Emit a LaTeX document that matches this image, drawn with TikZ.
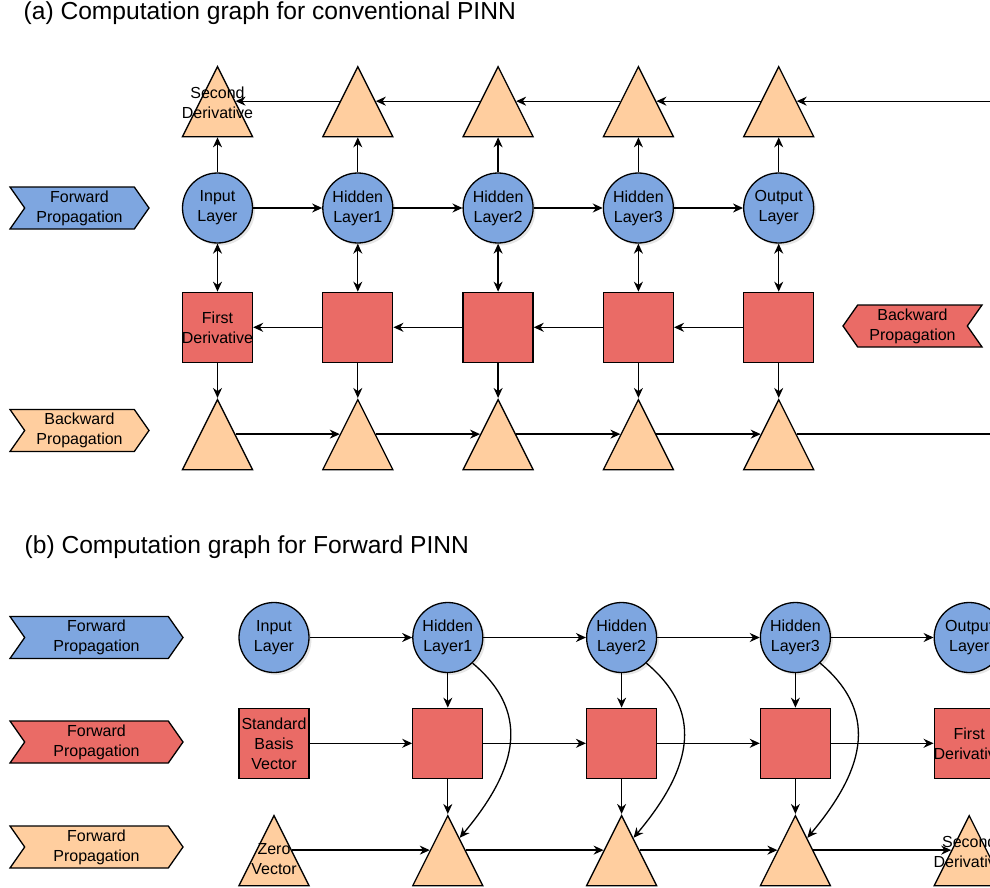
\documentclass[tikz,border=0pt]{standalone}
\usepackage{fontspec}
\setmainfont{Liberation Sans}
\usepackage{xcolor}
\usepackage{tikz}
\usetikzlibrary{positioning, arrows.meta, calc, shapes.geometric, shapes.symbols, shadows}

\definecolor{layerblue}{HTML}{7EA6E0}
\definecolor{derivred}{HTML}{EA6B66}
\definecolor{tanorange}{HTML}{FFCE9F}
\newcommand{\boxfont}{\fontsize{8}{10}\selectfont}

\begin{document}
\begin{tikzpicture}[
    line width=0.65pt,
    layer/.style={circle, draw, fill=layerblue, minimum size=35pt, inner sep=0pt,
                  align=center, font=\boxfont,
                  drop shadow={opacity=0.2, shadow xshift=1.2pt, shadow yshift=-1.2pt}},
    deriv/.style={rectangle, draw, fill=derivred, minimum size=35pt, inner sep=0pt,
                  align=center, font=\boxfont},
    tri/.style={isosceles triangle, isosceles triangle stretches, shape border rotate=90,
                draw, fill=tanorange, minimum width=35pt, minimum height=35pt, inner sep=0pt},
    tag/.style={signal, signal from=west, signal to=east, signal pointer angle=110,
                draw, minimum height=21pt, inner sep=0pt, align=center, font=\boxfont},
    title/.style={anchor=base west, inner sep=0pt, font=\fontsize{12.3}{14}\selectfont},
    every label/.style={align=center, inner sep=0pt, font=\boxfont},
    arr/.style={-{Stealth[length=5pt, width=4.5pt]}},
    bi/.style={{Stealth[length=5pt, width=4.5pt]}-{Stealth[length=5pt, width=4.5pt]}}
  ]
  \path[use as bounding box, clip] (0,0) rectangle (495pt,-444pt);

  % (a) conventional PINN
  \node[title] (tia) at (11.5pt,-10pt) {(a) Computation graph for conventional PINN};

  \node[tag, fill=layerblue, minimum width=69.5pt] (fpa) at (39.75pt,-104pt) {Forward\\Propagation};
  \node[tag, fill=tanorange, minimum width=69.5pt] (bpa) at (39.75pt,-215.25pt) {Backward\\Propagation};
  \node[tag, signal from=east, signal to=west, fill=derivred, minimum width=69.5pt]
       (bpr) at (456.25pt,-163pt) {Backward\\Propagation};

  \node[layer] (ia) at (108.75pt,-104pt) {Input\\Layer};
  \node[layer, right=34.5pt of ia]  (ha1) {Hidden\\Layer1};
  \node[layer, right=34.5pt of ha1] (ha2) {Hidden\\Layer2};
  \node[layer, right=34.5pt of ha2] (ha3) {Hidden\\Layer3};
  \node[layer, right=34.5pt of ha3] (oa)  {Output\\Layer};

  \node[tri, above=17.5pt of ia, label={[yshift=6pt]center:Second\\Derivative}] (ta0) {};
  \node[tri, above=17.5pt of ha1] (ta1) {};
  \node[tri, above=17.5pt of ha2] (ta2) {};
  \node[tri, above=17.5pt of ha3] (ta3) {};
  \node[tri, above=17.5pt of oa]  (ta4) {};

  \node[deriv, below=24pt of ia, label={center:First\\Derivative}] (sa0) {};
  \node[deriv, below=24pt of ha1] (sa1) {};
  \node[deriv, below=24pt of ha2] (sa2) {};
  \node[deriv, below=24pt of ha3] (sa3) {};
  \node[deriv, below=24pt of oa]  (sa4) {};

  \node[tri, below=17.5pt of sa0] (ba0) {};
  \node[tri, below=17.5pt of sa1] (ba1) {};
  \node[tri, below=17.5pt of sa2] (ba2) {};
  \node[tri, below=17.5pt of sa3] (ba3) {};
  \node[tri, below=17.5pt of sa4] (ba4) {};

  \coordinate (rim) at (500pt,0);
  \coordinate (topfeed) at (ta4.right side -| rim);
  \coordinate (botout)  at (ba4.right side -| rim);

  \draw[arr] (ia)  -- (ha1);
  \draw[arr] (ha1) -- (ha2);
  \draw[arr] (ha2) -- (ha3);
  \draw[arr] (ha3) -- (oa);

  \draw[arr] (ia)  -- (ta0);
  \draw[arr] (ha1) -- (ta1);
  \draw[arr] (ha2) -- (ta2);
  \draw[arr] (ha3) -- (ta3);
  \draw[arr] (oa)  -- (ta4);

  \draw[bi] (ia)  -- (sa0);
  \draw[bi] (ha1) -- (sa1);
  \draw[bi] (ha2) -- (sa2);
  \draw[bi] (ha3) -- (sa3);
  \draw[bi] (oa)  -- (sa4);

  \draw[arr] (sa0) -- (ba0);
  \draw[arr] (sa1) -- (ba1);
  \draw[arr] (sa2) -- (ba2);
  \draw[arr] (sa3) -- (ba3);
  \draw[arr] (sa4) -- (ba4);

  \draw[arr] (topfeed) -- (ta4.right side);
  \draw[arr] (ta4.left side) -- (ta3.right side);
  \draw[arr] (ta3.left side) -- (ta2.right side);
  \draw[arr] (ta2.left side) -- (ta1.right side);
  \draw[arr] (ta1.left side) -- (ta0.right side);

  \draw[arr] (sa4) -- (sa3);
  \draw[arr] (sa3) -- (sa2);
  \draw[arr] (sa2) -- (sa1);
  \draw[arr] (sa1) -- (sa0);

  \draw[arr] (ba0.right side) -- (ba1.left side);
  \draw[arr] (ba1.right side) -- (ba2.left side);
  \draw[arr] (ba2.right side) -- (ba3.left side);
  \draw[arr] (ba3.right side) -- (ba4.left side);
  \draw (ba4.right side) -- (botout);

  % (b) forward PINN
  \node[title] (tib) at (12pt,-276.5pt) {(b) Computation graph for Forward PINN};

  \node[tag, fill=layerblue, minimum width=86.5pt] (fpb1) at (48.25pt,-318.75pt) {Forward\\Propagation};
  \node[tag, fill=derivred,  minimum width=86.5pt] (fpb2) at (48.25pt,-371pt) {Forward\\Propagation};
  \node[tag, fill=tanorange, minimum width=86.5pt] (fpb3) at (48.25pt,-423.5pt) {Forward\\Propagation};

  \node[layer] (ib) at (137pt,-318.75pt) {Input\\Layer};
  \node[layer, right=51.25pt of ib]  (hb1) {Hidden\\Layer1};
  \node[layer, right=51.25pt of hb1] (hb2) {Hidden\\Layer2};
  \node[layer, right=51.25pt of hb2] (hb3) {Hidden\\Layer3};
  \node[layer, right=51.25pt of hb3] (ob)  {Output\\Layer};

  \node[deriv, below=17.25pt of ib]  (sv)  {Standard\\Basis\\Vector};
  \node[deriv, below=17.25pt of hb1] (sb1) {};
  \node[deriv, below=17.25pt of hb2] (sb2) {};
  \node[deriv, below=17.25pt of hb3] (sb3) {};
  \node[deriv, below=17.25pt of ob, label={center:First\\Derivative}] (fd) {};

  \node[tri, below=17.5pt of sv, label={[yshift=2.5pt]center:Zero\\Vector}] (zv) {};
  \node[tri, below=17.5pt of sb1] (tb1) {};
  \node[tri, below=17.5pt of sb2] (tb2) {};
  \node[tri, below=17.5pt of sb3] (tb3) {};
  \node[tri, below=17.5pt of fd, label={[yshift=6pt]center:Second\\Derivative}] (sd) {};

  \draw[arr] (ib)  -- (hb1);
  \draw[arr] (hb1) -- (hb2);
  \draw[arr] (hb2) -- (hb3);
  \draw[arr] (hb3) -- (ob);

  \draw[arr] (sv)  -- (sb1);
  \draw[arr] (sb1) -- (sb2);
  \draw[arr] (sb2) -- (sb3);
  \draw[arr] (sb3) -- (fd);

  \draw[arr] (zv.right side)  -- (tb1.left side);
  \draw[arr] (tb1.right side) -- (tb2.left side);
  \draw[arr] (tb2.right side) -- (tb3.left side);
  \draw[arr] (tb3.right side) -- (sd.left side);

  \draw[arr] (hb1) -- (sb1);
  \draw[arr] (hb2) -- (sb2);
  \draw[arr] (hb3) -- (sb3);
  \draw[arr] (sb1) -- (tb1);
  \draw[arr] (sb2) -- (tb2);
  \draw[arr] (sb3) -- (tb3);

  \draw[arr] (hb1.-46) to[out=-40, in=50, looseness=1.2] ($(tb1.apex)!0.33!(tb1.right corner)$);
  \draw[arr] (hb2.-46) to[out=-40, in=50, looseness=1.2] ($(tb2.apex)!0.33!(tb2.right corner)$);
  \draw[arr] (hb3.-46) to[out=-40, in=50, looseness=1.2] ($(tb3.apex)!0.33!(tb3.right corner)$);
\end{tikzpicture}
\end{document}
